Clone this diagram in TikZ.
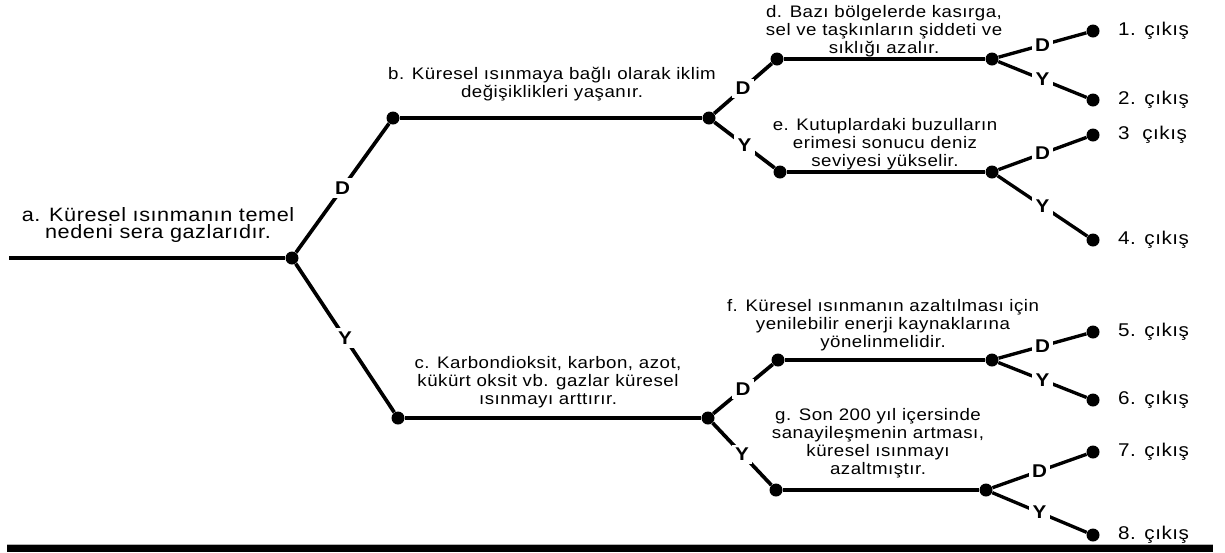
\documentclass[tikz,border=0pt]{standalone}
\usepackage{fontspec}
\setmainfont{Liberation Sans}[LetterSpace=3,FakeStretch=1.12]
\usetikzlibrary{positioning}

\begin{document}
\begin{tikzpicture}[x=0.02cm,y=-0.02cm,
    dot/.style = {circle,fill=black,inner sep=0pt,minimum size=0.26cm},
    branch/.style = {line width=2.1pt},
    leg/.style = {line width=1.9pt},
    lab/.style = {fill=white,inner sep=1.8pt,font=\fontsize{10.5}{10}\selectfont\bfseries},
    txt/.style = {align=center,inner sep=0pt,font=\fontsize{9.5}{10.3}\selectfont},
    exit/.style = {inner sep=0pt,font=\fontsize{10.5}{10}\selectfont}]
\useasboundingbox (0,0) rectangle (1225,552);
    % branch points
    \coordinate (s) at (9,258);
    \node[dot] (a) at (292,258) {};
    \node[dot] (b1) at (393,118) {};
    \node[dot] (b2) at (709,118) {};
    \node[dot] (c1) at (398,418) {};
    \node[dot] (c2) at (708,418) {};
    \node[dot] (d1) at (777,59) {};
    \node[dot] (d2) at (992,59) {};
    \node[dot] (e1) at (780,172) {};
    \node[dot] (e2) at (992,172) {};
    \node[dot] (f1) at (778,360) {};
    \node[dot] (f2) at (992,360) {};
    \node[dot] (g1) at (776,490) {};
    \node[dot] (g2) at (986,490) {};
    % exits
    \node[dot] (o1) at (1093,31) {};
    \node[dot] (o2) at (1093,100) {};
    \node[dot] (o3) at (1093,135) {};
    \node[dot] (o4) at (1093,240) {};
    \node[dot] (o5) at (1093,332) {};
    \node[dot] (o6) at (1093,400) {};
    \node[dot] (o7) at (1093,452) {};
    \node[dot] (o8) at (1093,535) {};
    \node[exit,right=0.36cm of o1] {1. çıkış};
    \node[exit,right=0.36cm of o2] {2. çıkış};
    \node[exit,right=0.36cm of o3] {3~~çıkış};
    \node[exit,right=0.36cm of o4] {4. çıkış};
    \node[exit,right=0.36cm of o5] {5. çıkış};
    \node[exit,right=0.36cm of o6] {6. çıkış};
    \node[exit,right=0.36cm of o7] {7. çıkış};
    \node[exit,right=0.36cm of o8] {8. çıkış};
    % statements
    \node[txt,font=\fontsize{11}{9.8}\selectfont] (ta) at (158,225) {a. Küresel ısınmanın temel\\nedeni sera gazlarıdır.};
    \node[txt] (tb) at (552,84) {b. Küresel ısınmaya bağlı olarak iklim\\değişiklikleri yaşanır.};
    \node[txt] (tc) at (548,382) {c. Karbondioksit, karbon, azot,\\kükürt oksit vb. gazlar küresel\\ısınmayı arttırır.};
    \node[txt] (td) at (884,31) {d. Bazı bölgelerde kasırga,\\sel ve taşkınların şiddeti ve\\sıklığı azalır.};
    \node[txt] (te) at (885,144) {e. Kutuplardaki buzulların\\erimesi sonucu deniz\\seviyesi yükselir.};
    \node[txt] (tf) at (883,325) {f. Küresel ısınmanın azaltılması için\\yenilebilir enerji kaynaklarına\\yönelinmelidir.};
    \node[txt] (tg) at (878,443) {g. Son 200 yıl içersinde\\sanayileşmenin artması,\\küresel ısınmayı\\azaltmıştır.};
    % lines
    \draw[branch] (s) -- (a);
    \draw[branch] (a) -- node[lab] {D} (b1);
    \draw[branch] (a) -- node[lab] {Y} (c1);
    \draw[branch] (b1) -- (b2);
    \draw[branch] (c1) -- (c2);
    \draw[branch] (b2) -- node[lab] {D} (d1);
    \draw[branch] (b2) -- node[lab] {Y} (e1);
    \draw[branch] (c2) -- node[lab] {D} (f1);
    \draw[branch] (c2) -- node[lab] {Y} (g1);
    \draw[branch] (d1) -- (d2);
    \draw[branch] (e1) -- (e2);
    \draw[branch] (f1) -- (f2);
    \draw[branch] (g1) -- (g2);
    \draw[leg] (d2) -- node[lab] {D} (o1);
    \draw[leg] (d2) -- node[lab] {Y} (o2);
    \draw[leg] (e2) -- node[lab] {D} (o3);
    \draw[leg] (e2) -- node[lab] {Y} (o4);
    \draw[leg] (f2) -- node[lab] {D} (o5);
    \draw[leg] (f2) -- node[lab] {Y} (o6);
    \draw[leg] (g2) -- node[lab] {D} (o7);
    \draw[leg] (g2) -- node[lab] {Y} (o8);
    % bottom bar
    \fill[gray!60] (7,543.5) rectangle (1213,545);
    \fill[black] (7,545) rectangle (1213,552);
\end{tikzpicture}
\end{document}
